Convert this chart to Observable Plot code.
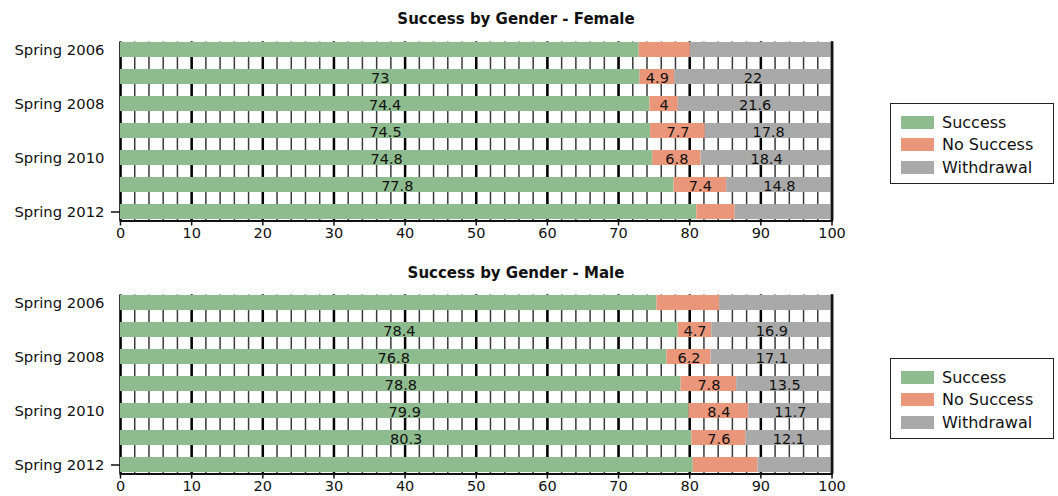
<!DOCTYPE html>
<html><head><meta charset="utf-8">
<script src="https://cdn.jsdelivr.net/npm/d3@7"></script>
<script src="https://cdn.jsdelivr.net/npm/@observablehq/plot@0.6"></script>
<style>
html,body{margin:0;padding:0;background:#fff;}
body{width:1058px;height:496px;overflow:hidden;position:relative;font-family:"DejaVu Sans",sans-serif;}
.panel{position:absolute;left:0;}
.title{position:absolute;left:0;width:1032px;text-align:center;font:bold 15px "DejaVu Sans",sans-serif;color:#111;line-height:18px;}
.legend{position:absolute;left:890px;width:164px;height:81px;border:1.5px solid #222;box-sizing:border-box;background:#fff;}
.item{position:absolute;left:10px;height:22px;display:flex;align-items:center;font:16px "DejaVu Sans",sans-serif;color:#111;}
.sw{width:33px;height:13px;margin-right:8px;}
</style></head>
<body>
<div id="root"></div>
<script>
const terms = ["Spring 2006","Spring 2007","Spring 2008","Spring 2009","Spring 2010","Spring 2011","Spring 2012"];
const termTickLabels = ["Spring 2006","Spring 2008","Spring 2010","Spring 2012"];
const labeledTerms = ["Spring 2007","Spring 2008","Spring 2009","Spring 2010","Spring 2011"];
const categories = ["Success","No Success","Withdrawal"];
const colors = ["#8FBC8F","#E9967A","#A9A9A9"];
const xTicks = [0,10,20,30,40,50,60,70,80,90,100];
const xMinorTicks = [0,2,4,6,8,10,12,14,16,18,20,22,24,26,28,30,32,34,36,38,40,42,44,46,48,50,52,54,56,58,60,62,64,66,68,70,72,74,76,78,80,82,84,86,88,90,92,94,96,98,100];

const femaleSuccess    = [72.9, 73, 74.4, 74.5, 74.8, 77.8, 81.0];
const femaleNoSuccess  = [7.2, 4.9, 4, 7.7, 6.8, 7.4, 5.4];
const femaleWithdrawal = [19.9, 22, 21.6, 17.8, 18.4, 14.8, 13.6];
const maleSuccess      = [75.4, 78.4, 76.8, 78.8, 79.9, 80.3, 80.5];
const maleNoSuccess    = [8.8, 4.7, 6.2, 7.8, 8.4, 7.6, 9.1];
const maleWithdrawal   = [15.8, 16.9, 17.1, 13.5, 11.7, 12.1, 10.4];

const titles = ["Success by Gender - Female","Success by Gender - Male"];

function makePanel(succ, nos, wd) {
  const rows = [];
  terms.forEach((t, i) => {
    rows.push({term: t, cat: categories[0], v: succ[i]});
    rows.push({term: t, cat: categories[1], v: nos[i]});
    rows.push({term: t, cat: categories[2], v: wd[i]});
  });
  return Plot.plot({
    width: 860, height: 243,
    marginLeft: 120, marginRight: 28.5, marginTop: 41.5, marginBottom: 22.5,
    style: {fontFamily: '"DejaVu Sans", sans-serif', background: "transparent", overflow: "visible"},
    x: {domain: [0, 100]},
    y: {domain: terms, paddingInner: 0.43, paddingOuter: 0},
    color: {domain: categories, range: colors},
    marks: [
      Plot.ruleX(xMinorTicks, {stroke: "#3a3a3a", strokeWidth: 1.5}),
      Plot.ruleX(xTicks, {stroke: "#000", strokeWidth: 2.5}),
      Plot.barX(rows, Plot.stackX({x: "v", y: "term", fill: "cat"})),
      Plot.text(rows, Plot.stackX({
        filter: d => labeledTerms.includes(d.term),
        x: "v", y: "term", text: d => String(d.v),
        fontSize: 14.5, fill: "#111", dy: 1
      })),
      Plot.ruleX([100], {stroke: "#111", strokeWidth: 2.5}),
      Plot.frame({anchor: "bottom", stroke: "#111", strokeWidth: 2}),
      Plot.axisX({ticks: xTicks, tickSize: 5, tickPadding: 2, fontSize: 14.5, label: null, stroke: "#111", fill: "#111", strokeWidth: 1.5}),
      Plot.axisY({ticks: termTickLabels, tickSize: 0, tickPadding: 16, fontSize: 14.8, label: null, fill: "#111"}),
      Plot.axisY({ticks: ["Spring 2012"], tickSize: 9, tickFormat: () => "", label: null, stroke: "#111", strokeWidth: 1.5})
    ]
  });
}

const root = document.getElementById("root");
const panelData = [
  [femaleSuccess, femaleNoSuccess, femaleWithdrawal],
  [maleSuccess, maleNoSuccess, maleWithdrawal]
];
panelData.forEach((d, k) => {
  const off = k * 253;
  const wrap = document.createElement("div");
  wrap.className = "panel";
  wrap.style.top = off + "px";
  wrap.appendChild(makePanel(d[0], d[1], d[2]));
  root.appendChild(wrap);

  const t = document.createElement("div");
  t.className = "title";
  t.style.top = (off + 10 + k) + "px";
  t.textContent = titles[k];
  root.appendChild(t);

  const lg = document.createElement("div");
  lg.className = "legend";
  lg.style.top = (off + 103 + 2 * k) + "px";
  categories.forEach((c, i) => {
    const it = document.createElement("div");
    it.className = "item";
    it.style.top = (7 + i * 22.5) + "px";
    const sw = document.createElement("span");
    sw.className = "sw";
    sw.style.background = colors[i];
    const tx = document.createElement("span");
    tx.textContent = c;
    it.appendChild(sw); it.appendChild(tx);
    lg.appendChild(it);
  });
  root.appendChild(lg);
});
</script>
</body></html>
